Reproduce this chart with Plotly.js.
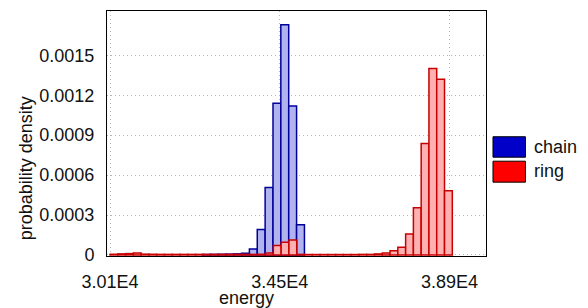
<!DOCTYPE html>
<html>
<head>
<meta charset="utf-8">
<script src="https://cdn.plot.ly/plotly-3.0.1.min.js"></script>
<style>html,body{margin:0;padding:0;background:#fff;}#chart{width:588px;height:308px;}</style>
</head>
<body>
<div id="chart"></div>
<script>
// ---- data ----
var seriesNames = ["chain", "ring"];

var chainBinCenters = [32591, 32795, 32999, 33203, 33406, 33610, 33814, 34018, 34222, 34426, 34629, 34833, 35037];
var chainDensity = [0.000003, 0.000004, 0.000005, 0.000006, 0.000008, 0.000013, 0.000045, 0.000192, 0.000507, 0.00114, 0.00173, 0.00112, 0.000227];
var chainBinWidth = 204;

var ringBinCenters = [30201, 30402, 30604, 30806, 31007, 31209, 31410, 31612, 31814, 32015,
                      32217, 32418, 32620, 32822, 33023, 33225, 33426, 33628, 33830, 34031,
                      34233, 34434, 34636, 34838, 35039, 35241, 35442, 35644, 35846, 36047,
                      36249, 36450, 36652, 36854, 37055, 37257, 37458, 37660, 37862, 38063,
                      38265, 38466, 38668, 38870];
var ringDensity = [0.000005, 0.000008, 0.00001, 0.000015, 0.000006, 0.000005, 0.000004, 0.000004, 0.000004, 0.000004,
                   0.000004, 0.000004, 0.000004, 0.000004, 0.000004, 0.000004, 0.000004, 0.000004, 0.000004, 0.000005,
                   0.000015, 0.00007, 0.000095, 0.000112, 0.000004, 0.000003, 0.000003, 0.000003, 0.000003, 0.000003,
                   0.000003, 0.000003, 0.000004, 0.000004, 0.0000075, 0.000015, 0.000032, 0.000057, 0.000158, 0.000355,
                   0.000837, 0.0014, 0.00132, 0.000482];
var ringBinWidth = 201.6;

var xTickVals = [30100, 34500, 38900];
var xTickText = ["3.01E4", "3.45E4", "3.89E4"];
var yTickVals = [0, 0.0003, 0.0006, 0.0009, 0.0012, 0.0015];
var yTickText = ["0", "0.0003", "0.0006", "0.0009", "0.0012", "0.0015"];
var xTitle = "energy";
var yTitle = "probability density";

// ---- layout helpers (pixel -> paper) ----
var W = 588, H = 308;
var L = 107, R = 486.5, T = 10.5, B = 256;
function px(x) { return (x - L) / (R - L); }
function py(y) { return (B - y) / (B - T); }

var FONT = "Liberation Sans, Arial, sans-serif";
var FS = 18;
var TXT = "#111";

var traces = [
  {
    type: "bar", name: seriesNames[0], x: chainBinCenters, y: chainDensity,
    width: chainBinCenters.map(function () { return chainBinWidth; }),
    marker: { color: "#b0b3ee", line: { color: "#00009a", width: 1.5 } },
    showlegend: false, hoverinfo: "x+y"
  },
  {
    type: "bar", name: seriesNames[1], x: ringBinCenters, y: ringDensity,
    width: ringBinCenters.map(function () { return ringBinWidth; }),
    marker: { color: "#ffb0b0", line: { color: "#c80000", width: 1.5 } },
    showlegend: false, hoverinfo: "x+y"
  }
];

var layout = {
  width: W, height: H,
  margin: { l: L, r: W - R, t: T, b: H - B, pad: 0 },
  paper_bgcolor: "#ffffff", plot_bgcolor: "#ffffff",
  barmode: "overlay", bargap: 0,
  showlegend: false,
  font: { family: FONT, size: FS, color: TXT },
  xaxis: {
    range: [30022, 39844],
    tickvals: xTickVals, ticktext: xTickText,
    ticks: "", ticklabelstandoff: 9, ticklabelshift: -3.5,
    showgrid: true, gridcolor: "#b8b8b8", griddash: "1px,3px", gridwidth: 1,
    zeroline: false, showline: true, linecolor: "#000", linewidth: 1, mirror: true,
    tickfont: { family: FONT, size: FS, color: TXT }
  },
  yaxis: {
    range: [-0.000008, 0.001833],
    tickvals: yTickVals, ticktext: yTickText,
    ticks: "", ticklabelstandoff: 8,
    showgrid: true, gridcolor: "#b8b8b8", griddash: "1px,3px", gridwidth: 1,
    zeroline: false, showline: true, linecolor: "#000", linewidth: 1, mirror: true,
    tickfont: { family: FONT, size: FS, color: TXT }
  },
  annotations: [
    { xref: "paper", yref: "paper", x: px(246.5), y: py(298.5), text: xTitle, showarrow: false,
      xanchor: "center", yanchor: "middle", font: { family: FONT, size: FS, color: TXT } },
    { xref: "paper", yref: "paper", x: px(26), y: py(168), text: yTitle, showarrow: false, textangle: -90,
      xanchor: "center", yanchor: "middle", font: { family: FONT, size: FS, color: TXT } },
    { xref: "paper", yref: "paper", x: px(533), y: py(147), text: seriesNames[0], showarrow: false,
      xanchor: "left", yanchor: "middle", font: { family: FONT, size: FS, color: TXT } },
    { xref: "paper", yref: "paper", x: px(533), y: py(171), text: seriesNames[1], showarrow: false,
      xanchor: "left", yanchor: "middle", font: { family: FONT, size: FS, color: TXT } }
  ],
  shapes: [
    { type: "rect", xref: "paper", yref: "paper", x0: px(493.5), x1: px(526), y0: py(157), y1: py(136.5),
      fillcolor: "#0000c8", line: { color: "#000", width: 1 } },
    { type: "rect", xref: "paper", yref: "paper", x0: px(493.5), x1: px(526), y0: py(182), y1: py(161),
      fillcolor: "#ff0000", line: { color: "#000", width: 1 } }
  ]
};

Plotly.newPlot("chart", traces, layout, { staticPlot: true, displayModeBar: false });
</script>
</body>
</html>
